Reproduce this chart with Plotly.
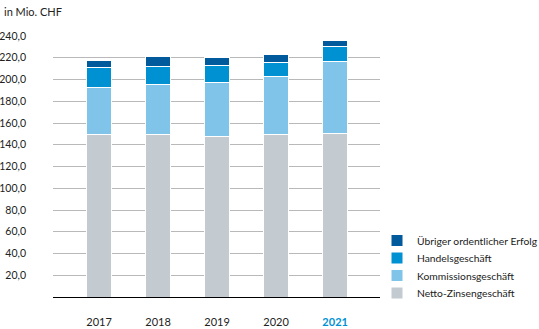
import plotly.graph_objects as go

# Betriebsertrag nach Geschäftsfeld, in Mio. CHF
years = ["2017", "2018", "2019", "2020", "2021"]
netto_zins = [149.8, 149.2, 147.7, 149.2, 150.7]
kommission = [43.1, 46.2, 49.5, 53.6, 65.8]
handel = [17.7, 16.8, 15.9, 13.1, 13.8]
uebriger = [6.6, 8.7, 6.7, 6.7, 6.0]

y_ticks = [20, 40, 60, 80, 100, 120, 140, 160, 180, 200, 220, 240]

series = [
    ("Netto-Zinsengeschäft", netto_zins, "#c3cbd0"),
    ("Kommissionsgeschäft", kommission, "#80c4ea"),
    ("Handelsgeschäft", handel, "#0091d3"),
    ("Übriger ordentlicher Erfolg", uebriger, "#005a9c"),
]

xpos = list(range(len(years)))
tick_text = years[:-1] + ["<b><span style='color:#0091d3'>%s</span></b>" % years[-1]]

font_family = "Lato, Open Sans, sans-serif"
W, H = 539, 329
ml, mr, mt, mb = 53, 159, 36, 32
pw = W - ml - mr
ph = H - mt - mb

# one legend box per series so the entries sit closer together
legend_ids = ["legend4", "legend3", "legend2", "legend"]
legend_rows_px = [293, 275.5, 258, 240.5]

fig = go.Figure()
for (name, vals, color), lid in zip(series, legend_ids):
    fig.add_trace(go.Bar(
        x=xpos, y=vals, name=name, width=0.43, legend=lid,
        marker=dict(color=color, line=dict(color="white", width=1)),
    ))

legend_style = dict(
    xanchor="left", yanchor="middle",
    font=dict(size=10.3, color="#222"),
    itemwidth=30, bgcolor="rgba(0,0,0,0)", borderwidth=0,
)
legends = {}
for lid, py in zip(legend_ids, legend_rows_px):
    legends[lid] = dict(
        legend_style,
        x=(377 - ml) / pw,
        y=(H - mb - py) / ph,
    )

fig.update_layout(
    width=W, height=H,
    template="none",
    barmode="stack",
    separators=",.",
    paper_bgcolor="white", plot_bgcolor="white",
    margin=dict(l=ml, r=mr, t=mt, b=mb, pad=0, autoexpand=False),
    font=dict(family=font_family, size=11, color="#222"),
    showlegend=True,
    xaxis=dict(
        range=[-0.78, 4.76], automargin=False,
        tickvals=xpos, ticktext=tick_text,
        showgrid=False, zeroline=False, showline=False,
        ticks="", ticklabelstandoff=17,
        tickfont=dict(size=11, color="#222"),
    ),
    yaxis=dict(
        range=[0, 240], automargin=False,
        tickvals=y_ticks, tickformat=".1f",
        showgrid=True, gridcolor="#b9b9b9", gridwidth=1,
        zeroline=True, zerolinecolor="#000", zerolinewidth=1,
        showline=False, ticks="",
        ticklabelstandoff=26,
        tickfont=dict(size=10.5, color="#222"),
    ),
    annotations=[dict(
        text="in Mio. CHF", xref="paper", yref="paper",
        x=(2 - ml) / pw, y=1 + (mt - 11) / ph,
        xanchor="left", yanchor="middle", showarrow=False,
        font=dict(size=11, color="#222"),
    )],
    **legends,
)

fig.write_html("out.html")
